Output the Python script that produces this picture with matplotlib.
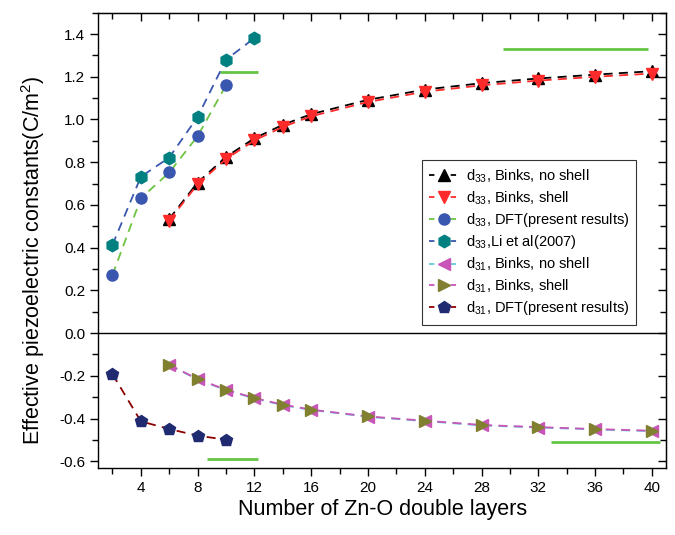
import matplotlib
matplotlib.use("Agg")
import matplotlib.pyplot as plt
from matplotlib.ticker import MultipleLocator
from matplotlib.lines import Line2D

plt.rcParams['font.family'] = ['Liberation Sans', 'DejaVu Sans']
plt.rcParams['mathtext.fontset'] = 'custom'
plt.rcParams['mathtext.rm'] = 'Liberation Sans'
plt.rcParams['mathtext.it'] = 'Liberation Sans:italic'

# ---- data ----
x_binks = [6, 8, 10, 12, 14, 16, 20, 24, 28, 32, 36, 40]
d33_noshell = [0.535, 0.705, 0.825, 0.912, 0.975, 1.025, 1.092, 1.140, 1.170, 1.192, 1.210, 1.226]
d33_shell = [0.527, 0.697, 0.815, 0.902, 0.965, 1.015, 1.082, 1.130, 1.160, 1.182, 1.200, 1.215]
x_dft33 = [2, 4, 6, 8, 10]
d33_dft = [0.272, 0.631, 0.752, 0.922, 1.160]
x_li = [2, 4, 6, 8, 10, 12]
d33_li = [0.413, 0.732, 0.822, 1.012, 1.280, 1.381]
d31_noshell = [-0.150, -0.217, -0.267, -0.306, -0.337, -0.360, -0.392, -0.412, -0.432, -0.442, -0.451, -0.459]
d31_shell = [-0.148, -0.215, -0.265, -0.304, -0.335, -0.358, -0.390, -0.410, -0.430, -0.440, -0.449, -0.457]
x_dft31 = [2, 4, 6, 8, 10]
d31_dft = [-0.192, -0.413, -0.449, -0.480, -0.499]

# green reference segments (x start, x end, y)
ref_x0 = [9.55, 29.5, 8.63, 32.9]
ref_x1 = [12.27, 39.7, 12.27, 40.6]
ref_y = [1.222, 1.332, -0.589, -0.509]

labels = [r'd$_{33}$, Binks, no shell', r'd$_{33}$, Binks, shell',
          r'd$_{33}$, DFT(present results)', r'd$_{33}$,Li et al(2007)',
          r'd$_{31}$, Binks, no shell', r'd$_{31}$, Binks, shell',
          r'd$_{31}$, DFT(present results)']

xticks = [4, 8, 12, 16, 20, 24, 28, 32, 36, 40]
yticks = [-0.6, -0.4, -0.2, 0.0, 0.2, 0.4, 0.6, 0.8, 1.0, 1.2, 1.4]

fig = plt.figure(figsize=(6.75, 5.35), dpi=100)
ax = fig.add_axes([0.1456, 0.1258, 0.8411, 0.8505])

dash = (0, (5, 3.5))
lw = 1.3

ax.axhline(0, color='black', lw=1.0, zorder=1)

for x0, x1, y in zip(ref_x0, ref_x1, ref_y):
    ax.plot([x0, x1], [y, y], color='#66c444', lw=2, solid_capstyle='butt', zorder=2)

styles = [
    dict(color='black', marker='^', ms=8, mfc='black', mec='black', zorder=3),
    dict(color='#ff2a2a', marker='v', ms=9, mfc='#ff2a2a', mec='#ff2a2a', zorder=4),
    dict(color='#6cc440', marker='o', ms=8, mfc='#3a57b0', mec='#3a57b0', zorder=4),
    dict(color='#3a57b0', marker='h', ms=9, mfc='#008080', mec='#008080', zorder=3),
    dict(color='#66ccdd', marker='<', ms=9, mfc='#c855b8', mec='#c855b8', zorder=3),
    dict(color='#c855b8', marker='>', ms=9, mfc='#808030', mec='#808030', zorder=4),
    dict(color='#8b0000', marker='p', ms=9, mfc='#1f2a70', mec='#1f2a70', zorder=4),
]
series = [(x_binks, d33_noshell), (x_binks, d33_shell), (x_dft33, d33_dft),
          (x_li, d33_li), (x_binks, d31_noshell), (x_binks, d31_shell),
          (x_dft31, d31_dft)]

for (xs, ys), st in zip(series, styles):
    ax.plot(xs, ys, ls=dash, lw=lw, **st)

handles = [Line2D([], [], ls=(0, (3, 9)), lw=lw,
                  **{k: v for k, v in st.items() if k != 'zorder'}) for st in styles]

ax.set_xlim(1, 41)
ax.set_ylim(-0.63, 1.5)
ax.set_xticks(xticks)
ax.set_yticks(yticks)
ax.set_yticklabels([f'{v:.1f}' for v in yticks])
ax.xaxis.set_minor_locator(MultipleLocator(2))
ax.yaxis.set_minor_locator(MultipleLocator(0.1))
ax.tick_params(which='both', direction='out', labelsize=11, width=1)
ax.tick_params(which='major', length=6)
ax.tick_params(which='minor', length=4)

secx = ax.secondary_xaxis('top')
secx.set_xticks(xticks)
secx.xaxis.set_minor_locator(MultipleLocator(2))
secx.tick_params(which='both', direction='in', labeltop=False, width=1)
secx.tick_params(which='major', length=6)
secx.tick_params(which='minor', length=4)
secy = ax.secondary_yaxis('right')
secy.set_yticks(yticks)
secy.yaxis.set_minor_locator(MultipleLocator(0.1))
secy.tick_params(which='both', direction='in', labelright=False, width=1)
secy.tick_params(which='major', length=6)
secy.tick_params(which='minor', length=4)

for s in ax.spines.values():
    s.set_linewidth(1.0)

ax.set_xlabel('Number of Zn-O double layers', fontsize=15.5, labelpad=3)
ax.set_ylabel(r'Effective piezoelectric constants(C/m$^2$)', fontsize=15.5)
ax.yaxis.set_label_coords(-0.090, 0.455)

leg = ax.legend(handles, labels, loc='upper left', bbox_to_anchor=(0.570, 0.676),
                fontsize=10.5, frameon=True, fancybox=False, edgecolor='black',
                handlelength=2.0, labelspacing=0.3, borderpad=0.5,
                handletextpad=0.5, borderaxespad=0)
leg.get_frame().set_linewidth(0.8)

fig.savefig('out.png', dpi=100)
